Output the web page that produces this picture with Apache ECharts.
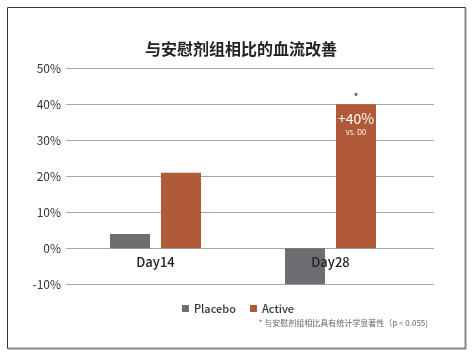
<!DOCTYPE html>
<html><head><meta charset="utf-8">
<script src="https://cdn.jsdelivr.net/npm/echarts@6/dist/echarts.min.js"></script>
<style>html,body{margin:0;padding:0;background:#fff}#c{width:476px;height:357px}</style>
</head><body><div id="c"></div>
<script>
const categories = ['Day14', 'Day28'];
const placebo = [4, -10];
const active = [21, 40];
const yTicks = [-10, 0, 10, 20, 30, 40, 50];
const seriesNames = ['Placebo', 'Active'];

const font = '"Noto Sans CJK SC","Noto Sans",sans-serif';
const chart = echarts.init(document.getElementById('c'), null, {renderer: 'canvas'});
const gTop = 68.3, gBottom = 357 - 284.3;
const pxPerTick = (284.3 - 68.3) / (yTicks.length - 1);
chart.setOption({
  animation: false,
  textStyle: {fontFamily: font},
  title: {
    text: '与安慰剂组相比的血流改善', left: 236, top: 36, textAlign: 'center',
    textStyle: {fontSize: 16, fontWeight: 'bold', color: '#222', fontFamily: font}
  },
  legend: {
    data: seriesNames, top: 298, left: 'center', itemWidth: 7, itemHeight: 7, itemGap: 14,
    icon: 'rect', textStyle: {fontSize: 11, color: '#333', fontWeight: 500, fontFamily: font, padding: [0, 0, 0, 0]}
  },
  grid: [
    {left: 66, right: 476 - 434, top: gTop, bottom: gBottom},
    {left: 68, right: 476 - 418, top: gTop, bottom: gBottom}
  ],
  xAxis: [
    {gridIndex: 0, type: 'category', data: categories, show: false},
    {gridIndex: 1, type: 'category', data: categories, z: 5, offset: -pxPerTick,
     axisLine: {show: false, onZero: false}, axisTick: {show: false},
     axisLabel: {fontSize: 13, color: '#222', fontWeight: 500, margin: 7, fontFamily: font}}
  ],
  yAxis: [
    {gridIndex: 0, type: 'value', min: yTicks[0], max: yTicks[yTicks.length - 1], interval: 10,
     axisLine: {show: false}, axisTick: {show: false},
     axisLabel: {formatter: '{value}%', fontSize: 12, color: '#333', margin: 5, fontFamily: font},
     splitLine: {lineStyle: {color: '#a6a6a6', width: 1.2}}},
    {gridIndex: 1, type: 'value', min: yTicks[0], max: yTicks[yTicks.length - 1], interval: 10,
     axisLine: {show: false}, axisTick: {show: false}, axisLabel: {show: false}, splitLine: {show: false}}
  ],
  series: [
    {name: seriesNames[0], type: 'bar', xAxisIndex: 1, yAxisIndex: 1, data: placebo,
     barWidth: 40, barGap: '27.5%', itemStyle: {color: '#6d6e72'}},
    {name: seriesNames[1], type: 'bar', xAxisIndex: 1, yAxisIndex: 1,
     data: active.map((v, i) => i === 1 ? {
       value: v,
       label: {show: true, position: 'insideTop', distance: 6,
         formatter: '{a|+' + v + '%}\n{b|vs. D0}',
         rich: {a: {fontSize: 14, color: '#fff', fontFamily: font, lineHeight: 16},
                b: {fontSize: 7.5, color: '#fff', fontFamily: font, lineHeight: 12}}}
     } : v),
     barWidth: 40, barGap: '27.5%', itemStyle: {color: '#b05a38'},
     markPoint: {
       symbol: 'rect', symbolSize: 0,
       data: [{coord: [categories[1], active[1]], value: '*'}],
       label: {show: true, formatter: '*', color: '#333', fontSize: 11, offset: [0, -7]}
     }}
  ],
  graphic: [
    {type: 'rect', shape: {x: 7.5, y: 7.5, width: 458, height: 341},
     style: {fill: 'none', stroke: '#333', lineWidth: 1}},
    {type: 'line', shape: {x1: 465.5, y1: 8, x2: 465.5, y2: 349}, style: {stroke: '#888', lineWidth: 2}},
    {type: 'line', shape: {x1: 8, y1: 348.5, x2: 466, y2: 348.5}, style: {stroke: '#888', lineWidth: 2}},
    {type: 'text', right: 48, top: 319,
     style: {text: '* 与安慰剂组相比具有统计学显著性（p < 0.055)', fontSize: 8, fill: '#666', fontFamily: font}}
  ]
});
</script></body></html>
